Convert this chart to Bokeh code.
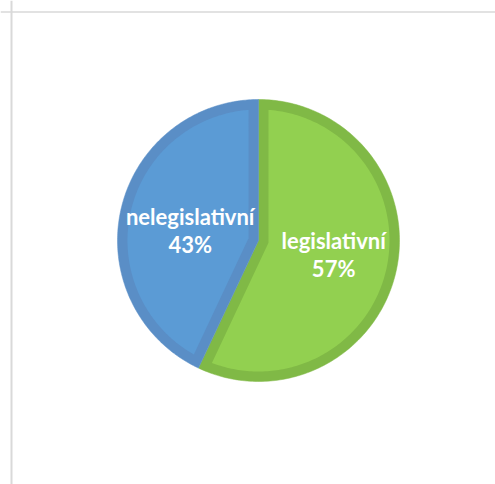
import numpy as np
from bokeh.plotting import figure
from bokeh.models import Range1d, Span, ColumnDataSource
from bokeh.embed import file_html
from bokeh.resources import INLINE
from bokeh.core.properties import value

# ---- data ----
categories = ["legislativní", "nelegislativní"]
values = [57, 43]

# ---- styles ----
fill_colors = ["#92D050", "#5B9BD5"]
edge_colors = ["#80B946", "#5A8EC6"]
label_radius = [77, 70]      # px from centre along slice bisector
label_nudge_y = [0, 8]       # px

W, H = 495, 484
p = figure(width=W, height=H, x_range=Range1d(0, W), y_range=Range1d(H, 0),
           output_backend="svg", toolbar_location=None, min_border=0,
           x_axis_location=None, y_axis_location=None)
p.grid.visible = False
p.outline_line_color = None
p.background_fill_color = "white"
p.border_fill_color = "white"

# chart-area frame (left and top edges visible in the window)
p.add_layout(Span(location=11, dimension="height", line_color="#D9D9D9", line_width=2))
p.add_layout(Span(location=11.5, dimension="width", line_color="#D9D9D9", line_width=1.5))

cx, cy, R, d = 258.0, 240.0, 141.0, 10.0
total = float(sum(values))
fracs = [v / total for v in values]

def pt(theta, r, ox=cx, oy=cy):
    return ox + r * np.sin(theta), oy - r * np.cos(theta)

outer_xs, outer_ys, inner_xs, inner_ys = [], [], [], []
lab_x, lab_y1, lab_y2, names, pcts = [], [], [], [], []
start = 0.0
for i, f in enumerate(fracs):
    t0 = start * 2 * np.pi
    t1 = (start + f) * 2 * np.pi
    start += f
    th = np.linspace(t0, t1, 200)
    x, y = pt(th, R)
    outer_xs.append([cx] + list(x))
    outer_ys.append([cy] + list(y))
    half = (t1 - t0) / 2
    mid = t0 + half
    r_in = R - d
    apx, apy = pt(mid, d / np.sin(half))
    da = np.arcsin(d / r_in)
    th2 = np.linspace(t0 + da, t1 - da, 200)
    x2, y2 = pt(th2, r_in)
    inner_xs.append([apx] + list(x2))
    inner_ys.append([apy] + list(y2))
    lx, ly = pt(mid, label_radius[i])
    ly += label_nudge_y[i]
    lab_x.append(lx)
    lab_y1.append(ly - 17)
    lab_y2.append(ly + 11)
    names.append(categories[i])
    pcts.append(f"{round(f * 100)}%")

p.patches(outer_xs, outer_ys, fill_color=edge_colors, line_color=edge_colors, line_width=0.5)
p.patches(inner_xs, inner_ys, fill_color=fill_colors, line_color=None)

src = ColumnDataSource(dict(x=lab_x, y1=lab_y1, y2=lab_y2, n=names, pc=pcts))
for col in ("n", "pc"):
    p.text(x="x", y="y1" if col == "n" else "y2", text=col, source=src,
           text_font=value("Lato"), text_font_style="bold", text_font_size="22px",
           text_color="white", text_align="center", text_baseline="alphabetic")

open("out.html", "w").write(file_html(p, INLINE))
